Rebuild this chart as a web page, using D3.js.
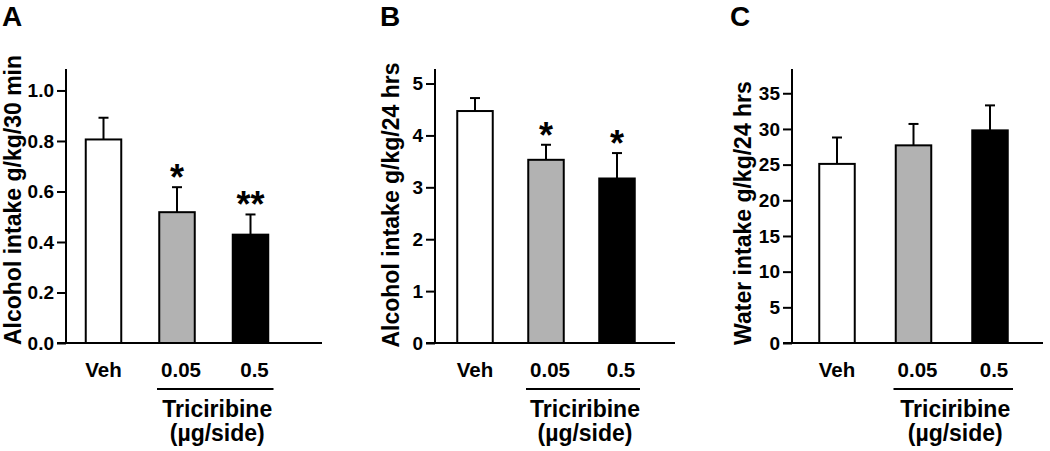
<!DOCTYPE html>
<html>
<head>
<meta charset="utf-8">
<script src="https://cdn.jsdelivr.net/npm/d3@7"></script>
<style>
  html, body { margin: 0; padding: 0; background: #fff; }
  svg { display: block; }
  text { font-family: "Liberation Sans", Arial, Helvetica, sans-serif; font-weight: bold; fill: #000; }
</style>
</head>
<body>
<svg id="chart" width="1050" height="451"></svg>
<script>
// ---- Data ----
const categories = ["Veh", "0.05", "0.5"];
const groupLabel = ["Triciribine", "(µg/side)"];

const alcohol30Mean = [0.806, 0.518, 0.429];
const alcohol30Sem  = [0.086, 0.099, 0.080];
const alcohol30Sig  = ["", "*", "**"];
const alcohol30Ticks = [0, 0.2, 0.4, 0.6, 0.8, 1.0];

const alcohol24Mean = [4.47, 3.53, 3.17];
const alcohol24Sem  = [0.25, 0.29, 0.49];
const alcohol24Sig  = ["", "*", "*"];
const alcohol24Ticks = [0, 1, 2, 3, 4, 5];

const water24Mean = [25.1, 27.7, 29.8];
const water24Sem  = [3.7, 3.0, 3.5];
const water24Sig  = ["", "", ""];
const water24Ticks = [0, 5, 10, 15, 20, 25, 30, 35];

const barFills = ["#ffffff", "#b2b2b2", "#000000"];

// ---- Layout (per panel) ----
const panels = [
  { letter: "A", mean: alcohol30Mean, sem: alcohol30Sem, sig: alcohol30Sig, ticks: alcohol30Ticks,
    fmt: d3.format(".1f"), yMax: 1.085, yLabel: "Alcohol intake g/kg/30 min",
    axisX: 66, xEnd: 322, centers: [103.5, 250.5], labelX: 21, labelCY: 200, letterX: 2 },
  { letter: "B", mean: alcohol24Mean, sem: alcohol24Sem, sig: alcohol24Sig, ticks: alcohol24Ticks,
    fmt: d3.format("d"), yMax: 5.28, yLabel: "Alcohol intake g/kg/24 hrs",
    axisX: 435, xEnd: 675, centers: [475, 617], labelX: 399, labelCY: 205, letterX: 380 },
  { letter: "C", mean: water24Mean, sem: water24Sem, sig: water24Sig, ticks: water24Ticks,
    fmt: d3.format("d"), yMax: 38.4, yLabel: "Water intake g/kg/24 hrs",
    axisX: 792, xEnd: 1043, centers: [837, 990], labelX: 751, labelCY: 213, letterX: 730 }
];

const baseline = 343, axisTop = 69, barW = 35.5, capW = 10;
const svg = d3.select("#chart");

panels.forEach(p => {
  const g = svg.append("g");
  const y = d3.scaleLinear().domain([0, p.yMax]).range([baseline, axisTop]);
  const x = d3.scalePoint().domain(categories).range(p.centers);

  // panel letter
  g.append("text").attr("x", p.letterX).attr("y", 25.5).attr("font-size", 28).text(p.letter);

  // y axis
  const yAxis = d3.axisLeft(y).tickValues(p.ticks).tickFormat(p.fmt).tickSize(9).tickPadding(3).tickSizeOuter(0);
  const ya = g.append("g").attr("transform", `translate(${p.axisX},0)`).call(yAxis);
  ya.attr("font-family", null).attr("font-size", null);
  ya.select(".domain").attr("stroke", "#000").attr("stroke-width", 2).attr("d", `M0,${axisTop}V${baseline}`);
  ya.selectAll(".tick line").attr("stroke", "#000").attr("stroke-width", 2);
  ya.selectAll(".tick text").attr("font-size", 19).attr("fill", "#000");

  // bars
  g.selectAll("rect.bar").data(p.mean).join("rect")
    .attr("class", "bar")
    .attr("x", (d, i) => x(categories[i]) - barW / 2)
    .attr("y", d => y(d))
    .attr("width", barW)
    .attr("height", d => baseline - y(d))
    .attr("fill", (d, i) => barFills[i])
    .attr("stroke", "#000").attr("stroke-width", 2);

  // error bars
  p.mean.forEach((m, i) => {
    const cx = x(categories[i]);
    const top = y(m + p.sem[i]);
    g.append("line").attr("x1", cx).attr("x2", cx).attr("y1", y(m)).attr("y2", top)
      .attr("stroke", "#000").attr("stroke-width", 2);
    g.append("line").attr("x1", cx - capW / 2).attr("x2", cx + capW / 2).attr("y1", top).attr("y2", top)
      .attr("stroke", "#000").attr("stroke-width", 2);
    if (p.sig[i]) {
      g.append("text").attr("x", cx).attr("y", top + 3).attr("text-anchor", "middle")
        .attr("font-size", 36).text(p.sig[i]);
    }
  });

  // x axis line
  g.append("line").attr("x1", p.axisX - 9).attr("x2", p.xEnd).attr("y1", baseline).attr("y2", baseline)
    .attr("stroke", "#000").attr("stroke-width", 2);

  // category labels
  g.selectAll("text.cat").data(categories).join("text")
    .attr("class", "cat")
    .attr("x", d => x(d) + (d === categories[0] ? 0 : 4))
    .attr("y", 377).attr("text-anchor", "middle").attr("font-size", 20.5).text(d => d);

  // group bracket
  const lx1 = x(categories[1]) - 20, lx2 = x(categories[2]) + 23;
  g.append("line").attr("x1", lx1).attr("x2", lx2).attr("y1", 389).attr("y2", 389)
    .attr("stroke", "#000").attr("stroke-width", 2);
  g.selectAll("text.grp").data(groupLabel).join("text")
    .attr("class", "grp")
    .attr("x", (lx1 + lx2) / 2 + 2)
    .attr("y", (d, i) => 417 + i * 24)
    .attr("text-anchor", "middle").attr("font-size", 23).text(d => d);

  // y label
  g.append("text")
    .attr("transform", `translate(${p.labelX},${p.labelCY}) rotate(-90)`)
    .attr("text-anchor", "middle").attr("font-size", 23).text(p.yLabel);
});
</script>
</body>
</html>
